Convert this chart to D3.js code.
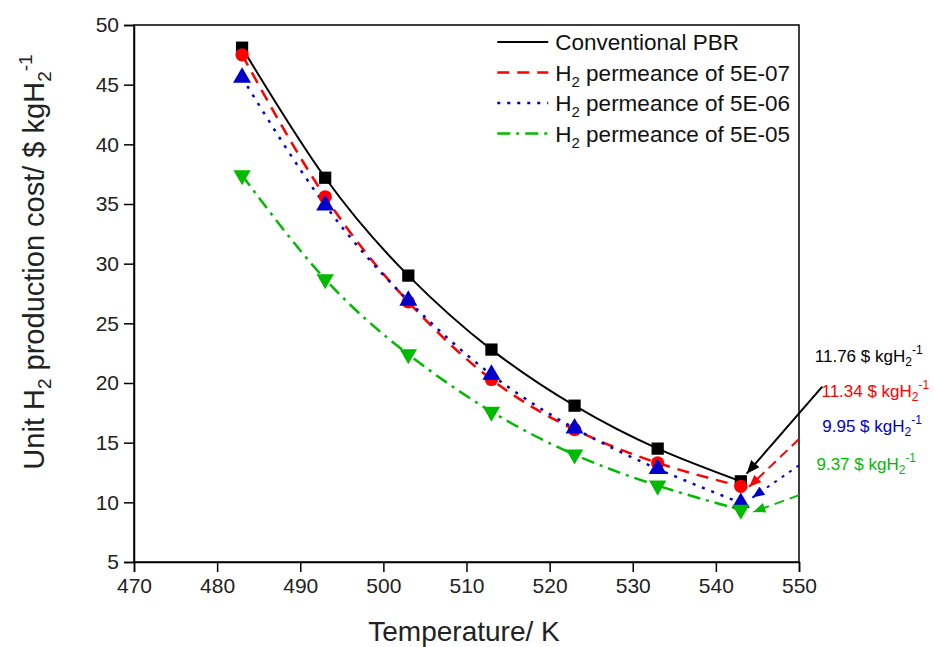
<!DOCTYPE html>
<html>
<head>
<meta charset="utf-8">
<script src="https://cdn.jsdelivr.net/npm/d3@7"></script>
<style>
  body { margin: 0; background: #fff; }
  text { font-family: "Liberation Sans", Arial, sans-serif; }
</style>
</head>
<body>
<div id="chart"></div>
<script>
const width = 935;
const height = 647;

// temperatures (K) and unit H2 production cost ($/kgH2)
const temperatures = [483, 493, 503, 513, 523, 533, 543];
const conventionalPBR = [48.1, 37.2, 29.0, 22.8, 18.1, 14.5, 11.76];
const perm5E07 = [47.5, 35.6, 26.8, 20.3, 16.1, 13.3, 11.34];
const perm5E06 = [45.6, 34.9, 26.9, 20.7, 16.2, 12.8, 9.95];
const perm5E05 = [37.4, 28.7, 22.4, 17.6, 14.0, 11.4, 9.37];

const seriesNames = ["Conventional PBR", "permeance of 5E-07", "permeance of 5E-06", "permeance of 5E-05"];
const seriesColors = ["#000000", "#ff0000", "#0000cc", "#00bb00"];
const xTicks = [470, 480, 490, 500, 510, 520, 530, 540, 550];
const yTicks = [5, 10, 15, 20, 25, 30, 35, 40, 45, 50];

// annotation values at the highest temperature
const annotValues = ["11.76", "11.34", "9.95", "9.37"];

let margin = { top: 25, right: 136, bottom: 85, left: 134 },
    plotWidth = width - margin.left - margin.right,
    plotHeight = height - margin.top - margin.bottom;

const svg = d3.select("#chart").append("svg")
    .attr("width", width)
    .attr("height", height);

const defs = svg.append("defs");
seriesColors.forEach((c, i) => {
    defs.append("marker")
        .attr("id", "arrow" + i)
        .attr("viewBox", "0 0 12 10")
        .attr("refX", 12)
        .attr("refY", 5)
        .attr("markerUnits", "userSpaceOnUse")
        .attr("markerWidth", i == 0 ? 15 : 13)
        .attr("markerHeight", i == 0 ? 11 : 10)
        .attr("orient", "auto")
        .append("path")
        .attr("d", "M0,0 L12,5 L0,10 Z")
        .attr("fill", c);
});

const g = svg.append("g")
    .attr("transform", `translate(${margin.left}, ${margin.top})`);

const x = d3.scaleLinear().domain([470, 550]).range([0, plotWidth]);
const y = d3.scaleLinear().domain([5, 50]).range([plotHeight, 0]);

// frame
g.append("rect")
    .attr("width", plotWidth)
    .attr("height", plotHeight)
    .attr("fill", "none")
    .attr("stroke", "#000")
    .attr("stroke-width", 1.5);

const xAxis = g.append("g")
    .attr("transform", `translate(0, ${plotHeight})`)
    .call(d3.axisBottom(x).tickValues(xTicks).tickSize(10).tickPadding(6));
const yAxis = g.append("g")
    .call(d3.axisLeft(y).tickValues(yTicks).tickSize(10).tickPadding(5));
[xAxis, yAxis].forEach(a => {
    a.select(".domain").attr("stroke-width", 1.5);
    a.selectAll(".tick line").attr("stroke-width", 1.5);
    a.selectAll(".tick text").attr("font-size", "21px").attr("fill", "#222")
        .style("font-family", "'Liberation Sans', Arial, sans-serif");
});

// axis titles
svg.append("text")
    .attr("x", 464)
    .attr("y", 641)
    .attr("text-anchor", "middle")
    .attr("font-size", "28px")
    .attr("fill", "#222")
    .text("Temperature/ K");

const yTitle = svg.append("text")
    .attr("transform", `translate(44, 262) rotate(-90)`)
    .attr("text-anchor", "middle")
    .attr("font-size", "29px")
    .attr("fill", "#222");
yTitle.append("tspan").text("Unit H");
yTitle.append("tspan").attr("font-size", "19px").attr("dy", 7).text("2");
yTitle.append("tspan").attr("dy", -7).text(" production cost/ $ kgH");
yTitle.append("tspan").attr("font-size", "19px").attr("dy", 7).text("2");
yTitle.append("tspan").attr("font-size", "19px").attr("dy", -19).text("-1");

// series
const allSeries = [conventionalPBR, perm5E07, perm5E06, perm5E05];
const dashes = [null, "12,8", "3,7", "13,6,3,6"];
const symbols = [d3.symbolSquare, d3.symbolCircle, d3.symbolTriangle, d3.symbolTriangle];
const symbolSizes = [150, 140, 140, 130];

const line = d3.line()
    .x(d => x(d.t))
    .y(d => y(d.v))
    .curve(d3.curveNatural);

allSeries.forEach((vals, i) => {
    const pts = temperatures.map((t, j) => ({ t: t, v: vals[j] }));
    g.append("path")
        .datum(pts)
        .attr("fill", "none")
        .attr("stroke", seriesColors[i])
        .attr("stroke-width", i == 0 ? 2 : 2.5)
        .attr("stroke-dasharray", dashes[i])
        .attr("d", line);
});

// markers drawn in order so the last series sits on top
allSeries.forEach((vals, i) => {
    g.selectAll(".pt" + i)
        .data(temperatures.map((t, j) => ({ t: t, v: vals[j] })))
        .enter().append("path")
        .attr("class", "pt" + i)
        .attr("d", d3.symbol().type(symbols[i]).size(symbolSizes[i]))
        .attr("transform", d => `translate(${x(d.t)}, ${y(d.v)})` + (i == 3 ? " rotate(180)" : ""))
        .attr("fill", seriesColors[i]);
});

// legend
const legend = g.append("g").attr("transform", `translate(${x(513.7)}, 0)`);
seriesNames.forEach((name, i) => {
    const row = legend.append("g").attr("transform", `translate(0, ${17 + i * 30.5})`);
    row.append("line")
        .attr("x1", 0).attr("x2", 51)
        .attr("stroke", seriesColors[i])
        .attr("stroke-width", i == 0 ? 2 : 2.5)
        .attr("stroke-dasharray", dashes[i]);
    const t = row.append("text")
        .attr("x", 58)
        .attr("y", 8)
        .attr("font-size", "22.5px")
        .attr("fill", "#111");
    if (i == 0) {
        t.text(name);
    } else {
        t.append("tspan").text("H");
        t.append("tspan").attr("font-size", "15px").attr("dy", 6).text("2");
        t.append("tspan").attr("dy", -6).text(" " + name);
    }
});

// annotation arrows (black one starts outside the frame, coloured ones at the frame edge)
const arrowStart = [[552.8, 19.7], [550, 15.3], [550, 13.1], [550, 10.6]];
const arrowEnd = [[543.7, 12.4], [544.0, 11.3], [544.4, 10.4], [544.5, 9.2]];
arrowStart.forEach((s, i) => {
    g.append("line")
        .attr("x1", x(s[0])).attr("y1", y(s[1]))
        .attr("x2", x(arrowEnd[i][0])).attr("y2", y(arrowEnd[i][1]))
        .attr("stroke", seriesColors[i])
        .attr("stroke-width", 2)
        .attr("stroke-dasharray", i == 0 ? null : (i == 2 ? "3,6" : "10,6"))
        .attr("marker-end", `url(#arrow${i})`);
});

// annotation labels
const labelPos = [[551.9, 21.8], [552.7, 18.8], [552.8, 15.9], [552.1, 12.7]];
annotValues.forEach((v, i) => {
    const t = g.append("text")
        .attr("x", x(labelPos[i][0]))
        .attr("y", y(labelPos[i][1]))
        .attr("font-size", "17px")
        .attr("fill", seriesColors[i]);
    t.append("tspan").text(v + " $ kgH");
    t.append("tspan").attr("font-size", "12px").attr("dy", 4).text("2");
    t.append("tspan").attr("font-size", "12px").attr("dy", -12).text("-1");
});
</script>
</body>
</html>
